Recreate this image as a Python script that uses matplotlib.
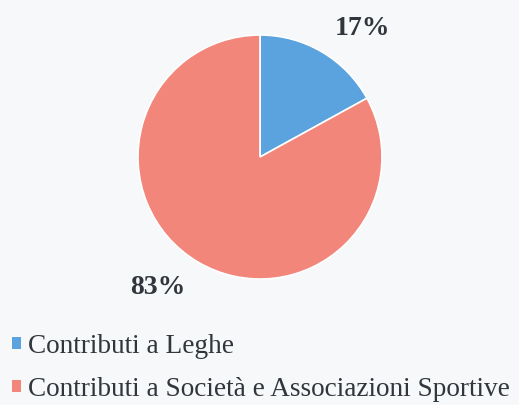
import matplotlib
matplotlib.use("Agg")
import matplotlib.pyplot as plt

categories = ["Contributi a Leghe", "Contributi a Società e Associazioni Sportive"]
shares = [17, 83]
pct_labels = ["17%", "83%"]
colors = ["#5aa3de", "#f2867a"]

bg = "#f7f8fa"
text_color = "#30363c"

plt.rcParams["font.family"] = ["Liberation Serif", "DejaVu Serif"]

W, H = 519, 405
fig = plt.figure(figsize=(W / 100, H / 100), dpi=100, facecolor=bg)

cx, cy, r = 260, 157, 122
ax = fig.add_axes([(cx - r) / W, (H - cy - r) / H, 2 * r / W, 2 * r / H])
ax.set_facecolor(bg)

wedges, _ = ax.pie(
    shares,
    colors=colors,
    startangle=90,
    counterclock=False,
    radius=1.0,
    wedgeprops=dict(edgecolor="white", linewidth=1.2),
)
ax.set_xlim(-1, 1)
ax.set_ylim(-1, 1)
ax.set_aspect("equal")
ax.axis("off")

# percentage labels, placed in data coords of the pie axes
label_pos = [(0.84, 1.05), (-0.84, -1.07)]
for (x, y), txt in zip(label_pos, pct_labels):
    ax.text(x, y, txt, ha="center", va="center", fontsize=20,
            fontweight="bold", color=text_color, clip_on=False)

leg = fig.legend(
    wedges, categories,
    loc="upper left",
    bbox_to_anchor=(12 / W, 1 - 334 / H),
    frameon=False,
    fontsize=19.6,
    handlelength=0.32,
    handleheight=0.32,
    handletextpad=0.25,
    labelspacing=0.66,
    borderaxespad=0,
    borderpad=0.0,
    labelcolor=text_color,
)
for h in leg.legend_handles:
    h.set_edgecolor("none")

fig.savefig("out.png", dpi=100, facecolor=bg)
